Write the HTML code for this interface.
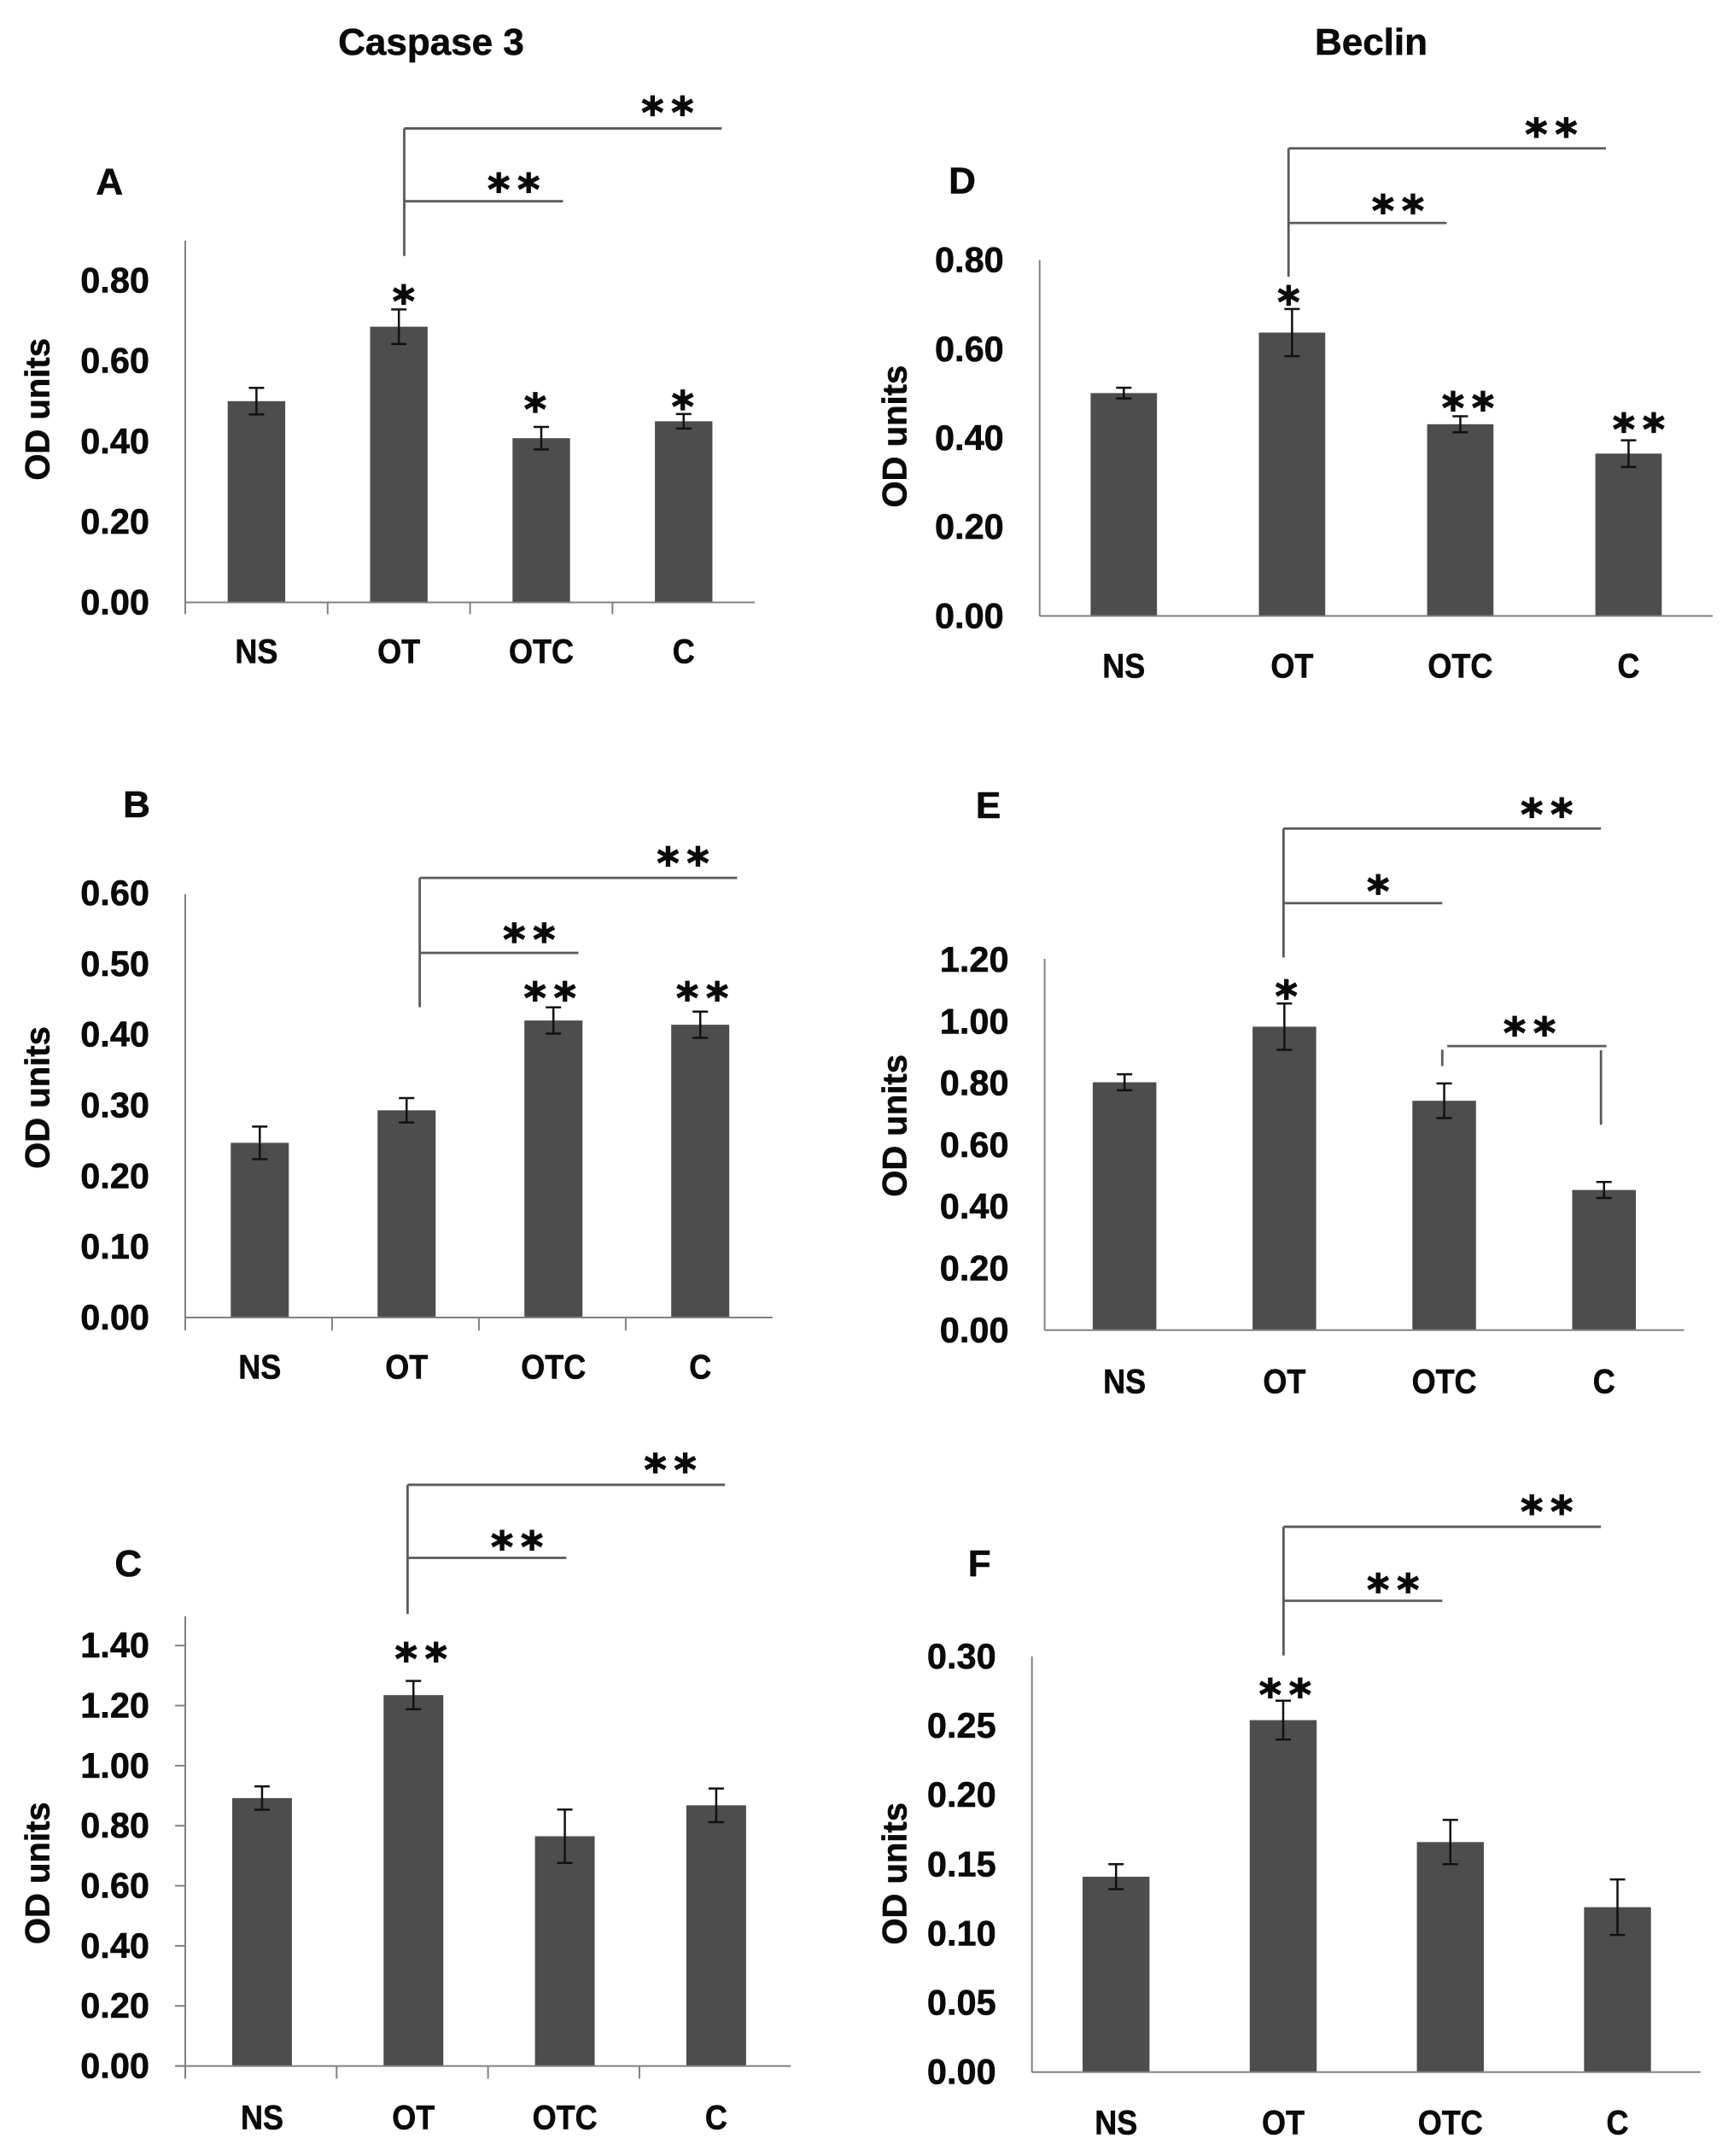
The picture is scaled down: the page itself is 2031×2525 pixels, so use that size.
<!DOCTYPE html>
<html lang="en">
<head>
<meta charset="utf-8">
<title>Caspase 3 and Beclin OD units</title>
<style>
html,body{margin:0;padding:0;background:#fff;width:2031px;height:2525px;overflow:hidden}
svg{display:block}
text{font-family:"Liberation Sans",sans-serif;font-weight:700;fill:#0a0a0a;stroke:#0a0a0a;stroke-width:.6px}
text.star{font-family:"DejaVu Sans",sans-serif;stroke-width:1.2px}
</style>
</head>
<body>
<svg id="figure" xmlns="http://www.w3.org/2000/svg" width="2031" height="2525" viewBox="0 0 2031 2525">
  <rect width="2031" height="2525" fill="#fff"/>
  <text x="505" y="64" font-size="44" text-anchor="middle">Caspase 3</text>
  <text x="1606" y="64" font-size="44" text-anchor="middle">Beclin</text>
</svg>
<script>
// ---- data ----
const categories = ["NS", "OT", "OTC", "C"];

const ticksA = ["0.00", "0.20", "0.40", "0.60", "0.80"];
const valuesA = [0.50, 0.685, 0.408, 0.45];
const errorsA = [0.033, 0.043, 0.028, 0.018];
const starsA = ["", "*", "*", "*"];

const ticksB = ["0.00", "0.10", "0.20", "0.30", "0.40", "0.50", "0.60"];
const valuesB = [0.247, 0.293, 0.42, 0.414];
const errorsB = [0.023, 0.0173, 0.0186, 0.0186];
const starsB = ["", "", "**", "**"];

const ticksC = ["0.00", "0.20", "0.40", "0.60", "0.80", "1.00", "1.20", "1.40"];
const valuesC = [0.892, 1.235, 0.765, 0.868];
const errorsC = [0.039, 0.047, 0.089, 0.056];
const starsC = ["", "**", "", ""];

const ticksD = ["0.00", "0.20", "0.40", "0.60", "0.80"];
const valuesD = [0.501, 0.637, 0.431, 0.365];
const errorsD = [0.012, 0.053, 0.018, 0.03];
const starsD = ["", "*", "**", "**"];

const ticksE = ["0.00", "0.20", "0.40", "0.60", "0.80", "1.00", "1.20"];
const valuesE = [0.803, 0.983, 0.743, 0.454];
const errorsE = [0.026, 0.075, 0.056, 0.026];
const starsE = ["", "*", "", ""];

const ticksF = ["0.00", "0.05", "0.10", "0.15", "0.20", "0.25", "0.30"];
const valuesF = [0.141, 0.254, 0.166, 0.119];
const errorsF = [0.009, 0.014, 0.016, 0.02];
const starsF = ["", "**", "", ""];

// ---- layout (in crop units, converted by kx/ky + ox/oy) ----
const KX = 1015 / 1567, KY_TOP = 830 / 1567, KY_BOT = 865 / 1567;
const panels = [
  {id:"a", letter:"A", ticks:ticksA, values:valuesA, errors:errorsA, stars:starsA, ox:0, oy:0, ky:KY_TOP,
   x0:335, x1:1365, base:1332, top:532, topTickY:620, barW:104, shift:0, xTicks:1358, yTicks:false,
   titleX:67, titleY:905, catY:1440, letterX:198, letterY:405, lift:[0,32,53,30], nudge:[0,5.6,-7,-1],
   bracket:{x:731, yEnd:566, y1:284, x1:1305, y2:445, x2:1018, s1:[1207,235,"**"], s2:[929,405,"**"]}},
  {id:"b", letter:"B", ticks:ticksB, values:valuesB, errors:errorsB, stars:starsB, ox:0, oy:830, ky:KY_TOP,
   x0:335, x1:1397, base:1346, top:410, topTickY:408, barW:105, shift:2, xTicks:1375, yTicks:false,
   titleX:67, titleY:860, catY:1455, letterX:247, letterY:215, lift:[0,0,34,44], nudge:[0,0,-4,2.4],
   bracket:{x:759, yEnd:660, y1:374, x1:1333, y2:540, x2:1046, s1:[1235,328,"**"], s2:[957,497,"**"]}},
  {id:"c", letter:"C", ticks:ticksC, values:valuesC, errors:errorsC, stars:starsC, ox:0, oy:1660, ky:KY_BOT,
   x0:335, x1:1430, base:1376, top:422, topTickY:484, barW:108, shift:2, xTicks:1403, yTicks:true,
   titleX:67, titleY:967, catY:1485, letterX:232, letterY:313, lift:[0,60,0,0], nudge:[0,9,0,0],
   bracket:{x:737, yEnd:417, y1:143, x1:1311, y2:298, x2:1024, s1:[1212,98,"**"], s2:[935,262,"**"]}},
  {id:"d", letter:"D", ticks:ticksD, values:valuesD, errors:errorsD, stars:starsD, ox:1015, oy:0, ky:KY_TOP,
   x0:313, x1:1530, base:1362, top:575, topTickY:575, barW:120, shift:0, xTicks:0, yTicks:false,
   titleX:50, titleY:965, catY:1472, letterX:173, letterY:403, lift:[0,29,32,38], nudge:[0,-4,9,12],
   bracket:{x:763, yEnd:612, y1:328, x1:1337, y2:493, x2:1049, s1:[1238,283,"**"], s2:[961,452,"**"]}},
  {id:"e", letter:"E", ticks:ticksE, values:valuesE, errors:errorsE, stars:starsE, ox:1015, oy:830, ky:KY_TOP,
   x0:322, x1:1478, base:1374, top:553, topTickY:555, barW:115, shift:0, xTicks:0, yTicks:false,
   titleX:50, titleY:922, catY:1487, letterX:220, letterY:217, lift:[0,30,0,0], nudge:[0,2.4,0,0],
   bracket:{x:754, yEnd:550, y1:265, x1:1328, y2:430, x2:1041, s1:[1230,220,"**"], s2:[925,390,"*"]},
   extra:{y:746, xa:1050, xb:1338, lx:1041, ly0:754, ly1:790, rx:1328, ry0:755, ry1:920, s:[1199,703,"**"]}},
  {id:"f", letter:"F", ticks:ticksF, values:valuesF, errors:errorsF, stars:starsF, ox:1015, oy:1660, ky:KY_BOT,
   x0:299, x1:1508, base:1389, top:507, topTickY:507, barW:121, shift:1, xTicks:0, yTicks:false,
   titleX:50, titleY:968, catY:1495, letterX:204, letterY:313, lift:[0,26,0,0], nudge:[0,2.4,0,0],
   bracket:{x:754, yEnd:505, y1:232, x1:1328, y2:389, x2:1041, s1:[1230,187,"**"], s2:[952,352,"**"]}}
];

const AXIS = "#808080", BAR = "#4d4d4d", BRACKET = "#5a5a5a", ERR = "#111";
const svg = document.getElementById("figure");
const NS = "http://www.w3.org/2000/svg";

function make(tag, attrs, parent, name) {
  const el = document.createElementNS(NS, tag);
  for (const k in attrs) el.setAttribute(k, attrs[k]);
  
  
  parent.appendChild(el);
  return el;
}
function line(parent, x1, y1, x2, y2, stroke, w, name) {
  return make("line", {x1, y1, x2, y2, stroke, "stroke-width": w}, parent, name);
}
function drawStars(parent, cx, cy, s, name) {
  const spacing = 35;
  const xs = [];
  for (let i = 0; i < s.length; i++) xs.push(cx + (i - (s.length - 1) / 2) * spacing);
  const t = make("text", {class:"star", x: xs.join(" "), y: cy + 25, "font-size": 50, "text-anchor": "middle"}, parent, name);
  t.textContent = s;
}

function drawPanel(p) {
  const g = make("g", {}, svg, "panel-" + p.id);
  const X = z => p.ox + z * KX;
  const Y = z => p.oy + z * p.ky;
  const maxTick = parseFloat(p.ticks[p.ticks.length - 1]);
  const yScale = v => Y(p.base) - v * (Y(p.base) - Y(p.topTickY)) / maxTick;
  const band = (X(p.x1) - X(p.x0)) / categories.length;
  const xScale = i => X(p.x0) + band * (i + 0.5) + p.shift * KX;

  // bars
  p.values.forEach((v, i) => {
    const w = p.barW * KX;
    make("rect", {x: xScale(i) - w / 2, y: yScale(v), width: w, height: yScale(0) - yScale(v), fill: BAR}, g, "bar-" + p.id + "-" + categories[i].toLowerCase());
  });
  // axes
  line(g, X(p.x0), Y(p.top), X(p.x0), p.xTicks ? Y(p.xTicks) : Y(p.base), AXIS, 2, "y-axis-" + p.id);
  line(g, p.yTicks ? X(p.x0) - 12 : X(p.x0), Y(p.base), X(p.x1), Y(p.base), AXIS, 2, "x-axis-" + p.id);
  if (p.xTicks) {
    for (let i = 1; i < categories.length; i++) {
      const tx = X(p.x0) + band * i;
      line(g, tx, Y(p.base), tx, Y(p.xTicks), AXIS, 2, "x-tick-" + p.id);
    }
  }
  // tick labels
  p.ticks.forEach(t => {
    const v = parseFloat(t);
    const y = yScale(v);
    const label = make("text", {x: X(p.x0) - 42, y: y + 14, "font-size": 41.5, "text-anchor": "end"}, g, "y-tick-label-" + p.id);
    label.textContent = t;
    if (p.yTicks) line(g, X(p.x0) - 12, y, X(p.x0), y, AXIS, 2, "y-tick-" + p.id);
  });
  // error bars
  p.values.forEach((v, i) => {
    const x = xScale(i);
    const top = yScale(v + p.errors[i]), bot = yScale(v - p.errors[i]);
    line(g, x, top, x, bot, ERR, 2.5, "error-bar-" + p.id);
    line(g, x - 9, top, x + 9, top, ERR, 2.5, "error-cap-top-" + p.id);
    line(g, x - 9, bot, x + 9, bot, ERR, 2.5, "error-cap-bottom-" + p.id);
  });
  // category labels
  categories.forEach((c, i) => {
    const lab = make("text", {"font-size": 40, "text-anchor": "middle", transform: "translate(" + xScale(i) + "," + (Y(p.catY) + 14) + ") scale(.9,1)"}, g, "category-label-" + p.id);
    lab.textContent = c;
  });
  // y title
  const title = make("text", {"font-size": 40, "text-anchor": "middle", transform: "translate(" + (X(p.titleX) + 14) + "," + Y(p.titleY) + ") rotate(-90)"}, g, "y-axis-title-" + p.id);
  title.textContent = "OD units";
  // panel letter
  const letter = make("text", {x: X(p.letterX), y: Y(p.letterY) + 13, "font-size": 44, "text-anchor": "middle"}, g, "panel-letter-" + p.id);
  letter.textContent = p.letter;
  // significance over bars
  p.stars.forEach((s, i) => {
    if (!s) return;
    drawStars(g, xScale(i) + p.nudge[i], yScale(p.values[i] + p.errors[i]) - p.lift[i] * p.ky, s, "bar-significance-" + p.id);
  });
  // brackets
  const b = p.bracket;
  line(g, X(b.x), Y(b.y1), X(b.x), Y(b.yEnd), BRACKET, 2.8, "bracket-stem-" + p.id);
  line(g, X(b.x), Y(b.y1), X(b.x1), Y(b.y1), BRACKET, 2.8, "bracket-long-" + p.id);
  line(g, X(b.x), Y(b.y2), X(b.x2), Y(b.y2), BRACKET, 2.8, "bracket-short-" + p.id);
  drawStars(g, X(b.s1[0]), Y(b.s1[1]), b.s1[2], "bracket-long-significance-" + p.id);
  drawStars(g, X(b.s2[0]), Y(b.s2[1]), b.s2[2], "bracket-short-significance-" + p.id);
  if (p.extra) {
    const e = p.extra;
    line(g, X(e.xa), Y(e.y), X(e.xb), Y(e.y), BRACKET, 2.8, "bracket-otc-c");
    line(g, X(e.lx), Y(e.ly0), X(e.lx), Y(e.ly1), BRACKET, 2.8, "bracket-otc-stem");
    line(g, X(e.rx), Y(e.ry0), X(e.rx), Y(e.ry1), BRACKET, 2.8, "bracket-c-stem");
    drawStars(g, X(e.s[0]), Y(e.s[1]), e.s[2], "bracket-otc-c-significance");
  }
}
panels.forEach(drawPanel);
</script>
</body>
</html>
